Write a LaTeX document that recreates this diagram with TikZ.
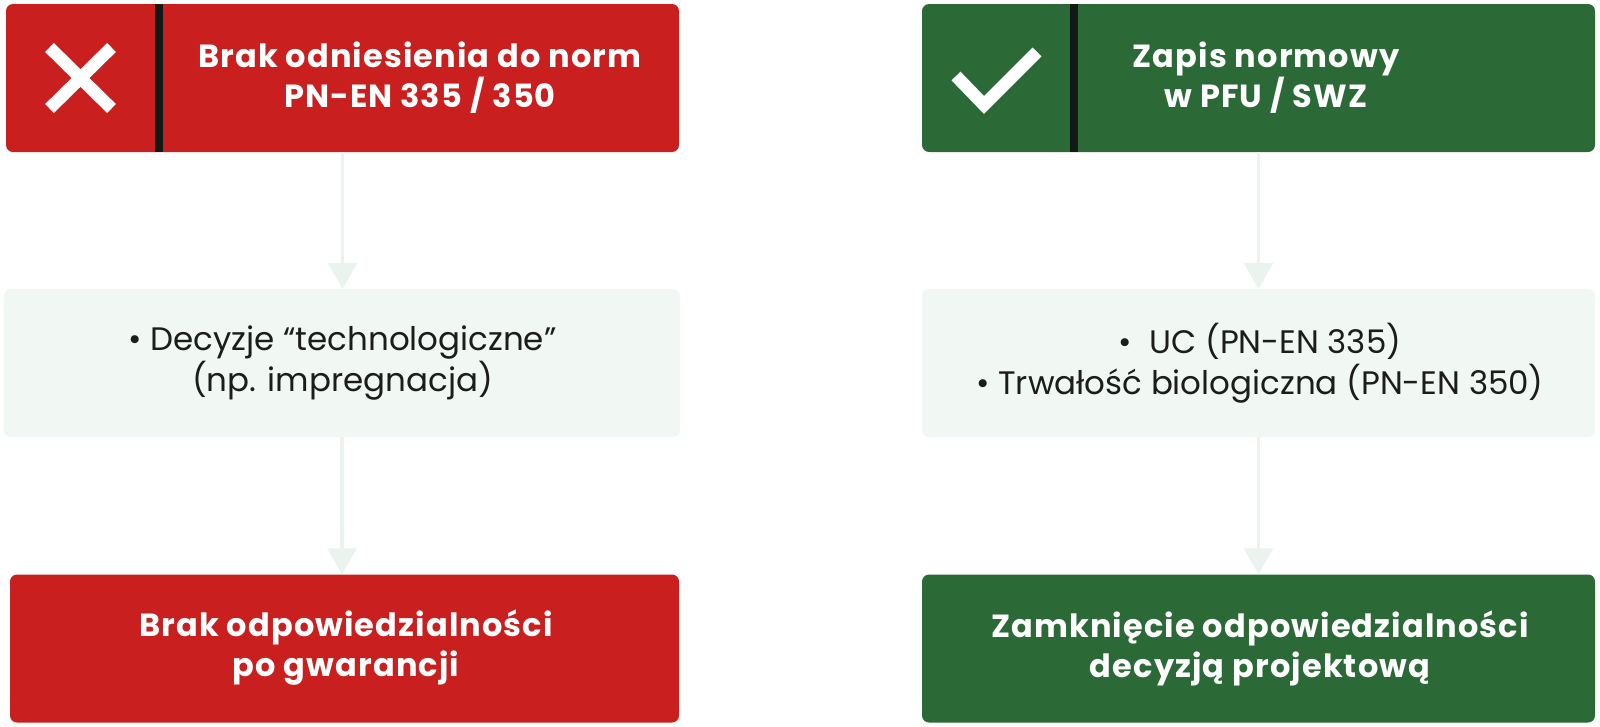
\documentclass[tikz,border=0pt]{standalone}
\usepackage{fontspec}
\setmainfont{Poppins}
\usetikzlibrary{arrows.meta}
\definecolor{cred}{HTML}{C91F1F}
\definecolor{cgreen}{HTML}{2B6A36}
\definecolor{clight}{HTML}{F1F7F3}
\definecolor{carrow}{HTML}{EBF3EE}
\definecolor{cbar}{HTML}{111A14}
\definecolor{ctext}{HTML}{1C1C1C}
\begin{document}
\begin{tikzpicture}[x=1pt,y=-1pt,
  box/.style={rounded corners=7pt, inner sep=0pt, minimum height=148pt, draw=none},
  redbox/.style={box, fill=cred},
  greenbox/.style={box, fill=cgreen},
  lightbox/.style={box, fill=clight},
  headtxt/.style={text=white, align=center, font=\fontsize{32}{40}\selectfont\bfseries\addfontfeatures{LetterSpace=3.5}, inner sep=0pt},
  bodytxt/.style={text=ctext, align=center, font=\fontsize{32.5}{41}\selectfont, inner sep=0pt},
  flow/.style={draw=carrow, line width=3.3pt, -{Triangle[width=29pt,length=26pt]}},
  icon/.style={draw=white, line width=12.5pt}
]
\path[use as bounding box, fill=white] (0,0) rectangle (1600,726);

% left column
\node[redbox, minimum width=673pt] (t1) at (342.5,78) {};
\node[lightbox, minimum width=676pt] (m1) at (342,363) {};
\node[redbox, minimum width=669pt] (b1) at (344.5,648.5) {};
% right column
\node[greenbox, minimum width=673pt] (t2) at (1258.5,78) {};
\node[lightbox, minimum width=673pt] (m2) at (1258.5,363) {};
\node[greenbox, minimum width=673pt] (b2) at (1258.5,648.5) {};

% dividers
\fill[cbar] (155,4) rectangle (163,152);
\fill[cbar] (1070,4) rectangle (1078,152);

% icons
\draw[icon] (49.5,47.5) -- (111.5,108.5);
\draw[icon] (111.5,47.5) -- (49.5,108.5);
\draw[icon, miter limit=10] (956,76) -- (984,105) -- (1037,52);

% texts
\node[headtxt] (t1txt) at (420,78) {Brak odniesienia do norm\\PN-EN 335 / 350};
\node[headtxt] (t2txt) at (1266,78) {Zapis normowy\\w PFU / SWZ};
\node[bodytxt] (m1txt) at (342.5,363) {• Decyzje “technologiczne”\\(np. impregnacja)};
\node[bodytxt] (m2txt) at (1260,363) {•\ \ UC (PN-EN 335)\\• Trwałość biologiczna (PN-EN 350)};
\node[headtxt] (b1txt) at (346,648) {Brak odpowiedzialności\\po gwarancji};
\node[headtxt] (b2txt) at (1260,648) {Zamknięcie odpowiedzialności\\decyzją projektową};

% connectors
\draw[flow] (t1.south) -- (t1.south |- m1.north);
\draw[flow] (m1.south) -- (m1.south |- b1.north);
\draw[flow] (t2.south) -- (m2.north);
\draw[flow] (m2.south) -- (b2.north);
\end{tikzpicture}
\end{document}
